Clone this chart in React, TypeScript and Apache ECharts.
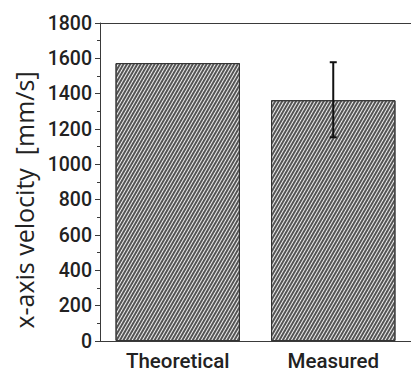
import React, { useEffect, useRef } from "react";
import * as echarts from "echarts";

const categories = ["Theoretical", "Measured"];
const values = [1573, 1363];
const errLow = [null, 1153];
const errHigh = [null, 1578];
const yMin = 0;
const yMax = 1800;
const yInterval = 200;
const yTitle = "x-axis velocity  [mm/s]";

export default function App() {
  const ref = useRef<HTMLDivElement>(null);
  useEffect(() => {
    if (!ref.current) return;
    const chart = echarts.init(ref.current, null, { renderer: "svg" });
    const axisColor = "#3a3a3a";
    const font = "Roboto, 'DejaVu Sans', sans-serif";
    const errData = categories
      .map((c, i) => [i, errLow[i], errHigh[i]])
      .filter((d) => d[1] != null);
    chart.setOption({
      animation: false,
      grid: { left: 100, top: 23, width: 317, height: 318, containLabel: false },
      xAxis: [
        {
          type: "category",
          data: categories,
          position: "bottom",
          axisLine: { lineStyle: { color: axisColor, width: 1 } },
          axisTick: { alignWithLabel: true, length: 5, inside: false, lineStyle: { color: axisColor } },
          axisLabel: { color: "#222", fontSize: 20.5, fontWeight: 500, fontFamily: font, margin: 9 },
        },
        {
          type: "category",
          data: categories,
          position: "top",
          axisLine: { lineStyle: { color: axisColor, width: 1 } },
          axisTick: { alignWithLabel: true, length: 4, inside: true, lineStyle: { color: axisColor } },
          axisLabel: { show: false },
        },
        {
          type: "category",
          data: categories,
          position: "bottom",
          axisLine: { show: false },
          axisTick: { alignWithLabel: false, length: 2, lineStyle: { color: axisColor } },
          axisLabel: { show: false },
        },
      ],
      yAxis: {
        type: "value",
        min: yMin,
        max: yMax,
        interval: yInterval,
        splitLine: { show: false },
        axisLine: { show: true, lineStyle: { color: axisColor, width: 1 } },
        axisTick: { show: true, length: 5, lineStyle: { color: axisColor } },
        minorTick: { show: true, splitNumber: 2, length: 3, lineStyle: { color: axisColor } },
        minorSplitLine: { show: false },
        axisLabel: {
          color: "#222",
          fontSize: 19.5,
          fontWeight: 500,
          fontFamily: font,
          margin: 8,
          formatter: (v: number) => String(v),
        },
      },
      graphic: [
        {
          type: "text",
          x: 24,
          y: 200,
          rotation: Math.PI / 2,
          style: {
            text: yTitle,
            font: "25px 'Open Sans', Roboto, sans-serif",
            fill: "#222",
            align: "center",
            verticalAlign: "middle",
          },
        },
      ],
      series: [
        {
          type: "bar",
          data: values,
          xAxisIndex: 0,
          barCategoryGap: "20%",
          itemStyle: {
            color: "#f0f0f0",
            borderColor: "#333",
            borderWidth: 1,
            decal: {
              symbol: "rect",
              symbolSize: 1,
              dashArrayX: [1, 0],
              dashArrayY: [1.3, 1],
              rotation: -Math.PI / 3,
              color: "#555555",
            },
          },
        },
        {
          type: "custom",
          xAxisIndex: 0,
          data: errData,
          renderItem: (params: any, api: any) => {
            const x = api.value(0);
            const lo = api.coord([x, api.value(1)]);
            const hi = api.coord([x, api.value(2)]);
            const half = 3.5;
            const style = { stroke: "#111", lineWidth: 2 };
            return {
              type: "group",
              children: [
                { type: "line", shape: { x1: lo[0], y1: lo[1], x2: hi[0], y2: hi[1] }, style },
                { type: "line", shape: { x1: hi[0] - half, y1: hi[1], x2: hi[0] + half, y2: hi[1] }, style },
                { type: "line", shape: { x1: lo[0] - half, y1: lo[1], x2: lo[0] + half, y2: lo[1] }, style },
              ],
            };
          },
          z: 5,
        },
      ],
    });
    return () => chart.dispose();
  }, []);
  return <div ref={ref} style={{ width: 411, height: 373, position: "absolute", left: 0, top: 0 }} />;
}
